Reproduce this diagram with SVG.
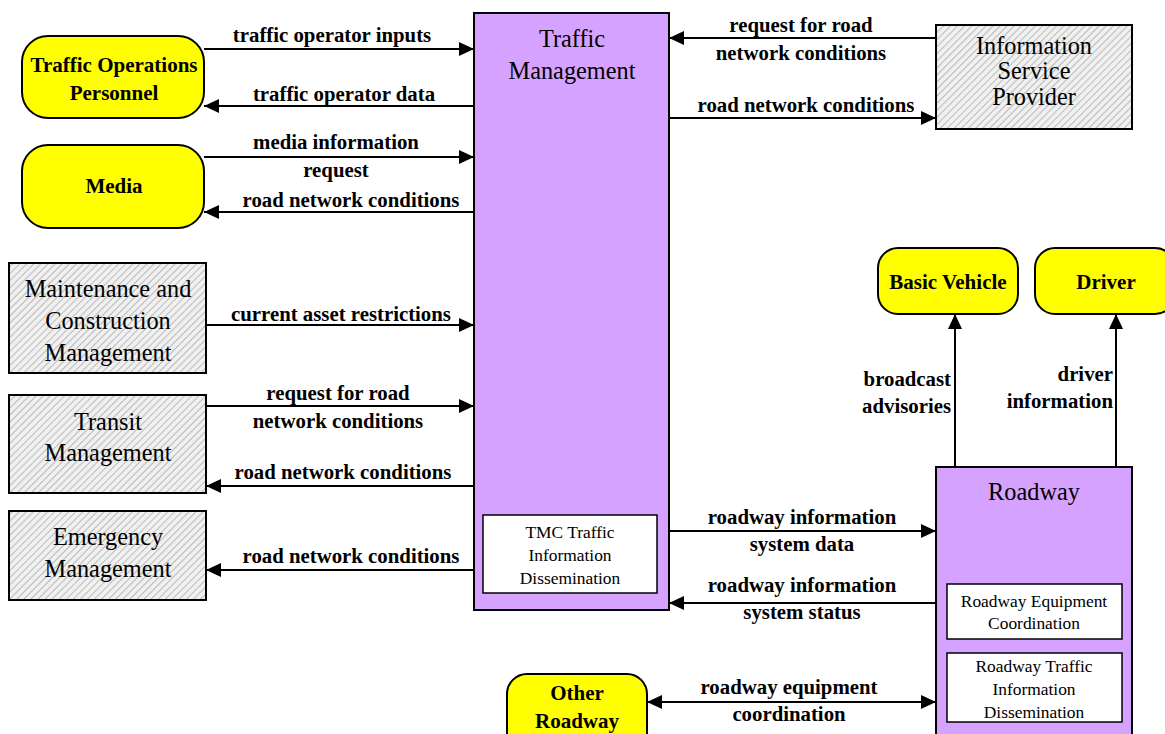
<svg xmlns="http://www.w3.org/2000/svg" width="1165" height="734" viewBox="0 0 1165 734">
<style>
.ext{fill:#ffff00;stroke:#000;stroke-width:2}
.hat{fill:url(#hatch);stroke:#000;stroke-width:2}
.sub{fill:#d6a2ff;stroke:#000;stroke-width:2}
.inner{fill:#fff;stroke:#000;stroke-width:1.5}
text{font-family:'Liberation Serif','Times New Roman',Times,serif;fill:#000;text-anchor:middle}
.bt{font-weight:bold;font-size:21px}
.nt{font-size:24.3px}
.st{font-size:17.4px}
.lb{font-weight:bold;font-size:20.8px}
.r{text-anchor:end}
.ln{stroke:#000;stroke-width:2;fill:none}
</style>
<defs>
<pattern id="hatch" patternUnits="userSpaceOnUse" width="5" height="5" patternTransform="rotate(45)">
<rect width="5" height="5" fill="#f0f0f0"/>
<line x1="0" y1="0" x2="0" y2="5" stroke="#a8a8a8" stroke-width="1.5"/>
</pattern>
<marker id="ah" markerUnits="userSpaceOnUse" markerWidth="16" markerHeight="14" refX="15" refY="7" orient="auto-start-reverse">
<path d="M0,0 L15,7 L0,14 Z" fill="#000"/>
</marker>
</defs>
<rect width="1165" height="734" fill="#fff"/>

<g id="connectors">
<line class="ln" x1="204" y1="49" x2="474" y2="49" marker-end="url(#ah)"/>
<text class="lb" x="332" y="42">traffic operator inputs</text>
<line class="ln" x1="474" y1="106" x2="204" y2="106" marker-end="url(#ah)"/>
<text class="lb" x="344" y="101">traffic operator data</text>
<line class="ln" x1="204" y1="157" x2="474" y2="157" marker-end="url(#ah)"/>
<text class="lb" x="336" y="149">media information</text>
<text class="lb" x="336" y="177">request</text>
<line class="ln" x1="474" y1="212" x2="204" y2="212" marker-end="url(#ah)"/>
<text class="lb" x="351" y="207">road network conditions</text>
<line class="ln" x1="206" y1="325" x2="474" y2="325" marker-end="url(#ah)"/>
<text class="lb" x="341" y="321">current asset restrictions</text>
<line class="ln" x1="206" y1="406" x2="474" y2="406" marker-end="url(#ah)"/>
<text class="lb" x="338" y="400">request for road</text>
<text class="lb" x="338" y="428">network conditions</text>
<line class="ln" x1="474" y1="486" x2="206" y2="486" marker-end="url(#ah)"/>
<text class="lb" x="343" y="479">road network conditions</text>
<line class="ln" x1="474" y1="570" x2="206" y2="570" marker-end="url(#ah)"/>
<text class="lb" x="351" y="563">road network conditions</text>
<line class="ln" x1="936" y1="38" x2="669" y2="38" marker-end="url(#ah)"/>
<text class="lb" x="801" y="32">request for road</text>
<text class="lb" x="801" y="60">network conditions</text>
<line class="ln" x1="669" y1="118" x2="936" y2="118" marker-end="url(#ah)"/>
<text class="lb" x="806" y="112">road network conditions</text>
<line class="ln" x1="955" y1="467" x2="955" y2="314" marker-end="url(#ah)"/>
<text class="lb r" x="951" y="386">broadcast</text>
<text class="lb r" x="951" y="413">advisories</text>
<line class="ln" x1="1116" y1="467" x2="1116" y2="314" marker-end="url(#ah)"/>
<text class="lb r" x="1113" y="381">driver</text>
<text class="lb r" x="1113" y="408">information</text>
<line class="ln" x1="669" y1="531" x2="936" y2="531" marker-end="url(#ah)"/>
<text class="lb" x="802" y="524">roadway information</text>
<text class="lb" x="802" y="551">system data</text>
<line class="ln" x1="936" y1="603" x2="669" y2="603" marker-end="url(#ah)"/>
<text class="lb" x="802" y="592">roadway information</text>
<text class="lb" x="802" y="619">system status</text>
<line class="ln" x1="647" y1="702" x2="936" y2="702" marker-start="url(#ah)" marker-end="url(#ah)"/>
<text class="lb" x="789" y="694">roadway equipment</text>
<text class="lb" x="789" y="721">coordination</text>
</g>

<g id="traffic-management">
<rect class="sub" x="474" y="13" width="195" height="597"/>
<text class="nt" x="572" y="47">Traffic</text>
<text class="nt" x="572" y="79">Management</text>
<rect class="inner" x="483" y="515" width="174" height="78"/>
<text class="st" x="570" y="538">TMC Traffic</text>
<text class="st" x="570" y="561">Information</text>
<text class="st" x="570" y="584">Dissemination</text>
</g>

<g id="traffic-operations-personnel">
<rect class="ext" x="22" y="36" width="182" height="82" rx="26"/>
<text class="bt" x="114" y="72">Traffic Operations</text>
<text class="bt" x="114" y="100">Personnel</text>
</g>

<g id="media">
<rect class="ext" x="22" y="145" width="182" height="83" rx="26"/>
<text class="bt" x="114" y="193">Media</text>
</g>

<g id="maintenance">
<rect class="hat" x="9" y="263" width="197" height="110"/>
<text class="nt" x="108" y="297">Maintenance and</text>
<text class="nt" x="108" y="329">Construction</text>
<text class="nt" x="108" y="361">Management</text>
</g>

<g id="transit">
<rect class="hat" x="9" y="395" width="197" height="98"/>
<text class="nt" x="108" y="430">Transit</text>
<text class="nt" x="108" y="461">Management</text>
</g>

<g id="emergency">
<rect class="hat" x="9" y="511" width="197" height="89"/>
<text class="nt" x="108" y="545">Emergency</text>
<text class="nt" x="108" y="577">Management</text>
</g>

<g id="isp">
<rect class="hat" x="936" y="25" width="196" height="104"/>
<text class="nt" x="1034" y="54">Information</text>
<text class="nt" x="1034" y="79">Service</text>
<text class="nt" x="1034" y="105">Provider</text>
</g>

<g id="basic-vehicle">
<rect class="ext" x="878" y="248" width="140" height="66" rx="20"/>
<text class="bt" x="948" y="289">Basic Vehicle</text>
</g>

<g id="driver">
<rect class="ext" x="1035" y="248" width="140" height="66" rx="20"/>
<text class="bt" x="1106" y="289">Driver</text>
</g>

<g id="roadway">
<rect class="sub" x="936" y="467" width="196" height="280"/>
<text class="nt" x="1034" y="500">Roadway</text>
<rect class="inner" x="947" y="584" width="175" height="55"/>
<text class="st" x="1034" y="607">Roadway Equipment</text>
<text class="st" x="1034" y="629">Coordination</text>
<rect class="inner" x="947" y="653" width="175" height="69"/>
<text class="st" x="1034" y="672">Roadway Traffic</text>
<text class="st" x="1034" y="695">Information</text>
<text class="st" x="1034" y="718">Dissemination</text>
</g>

<g id="other-roadway">
<rect class="ext" x="507" y="674" width="140" height="80" rx="20"/>
<text class="bt" x="577" y="700">Other</text>
<text class="bt" x="577" y="728">Roadway</text>
</g>
</svg>
